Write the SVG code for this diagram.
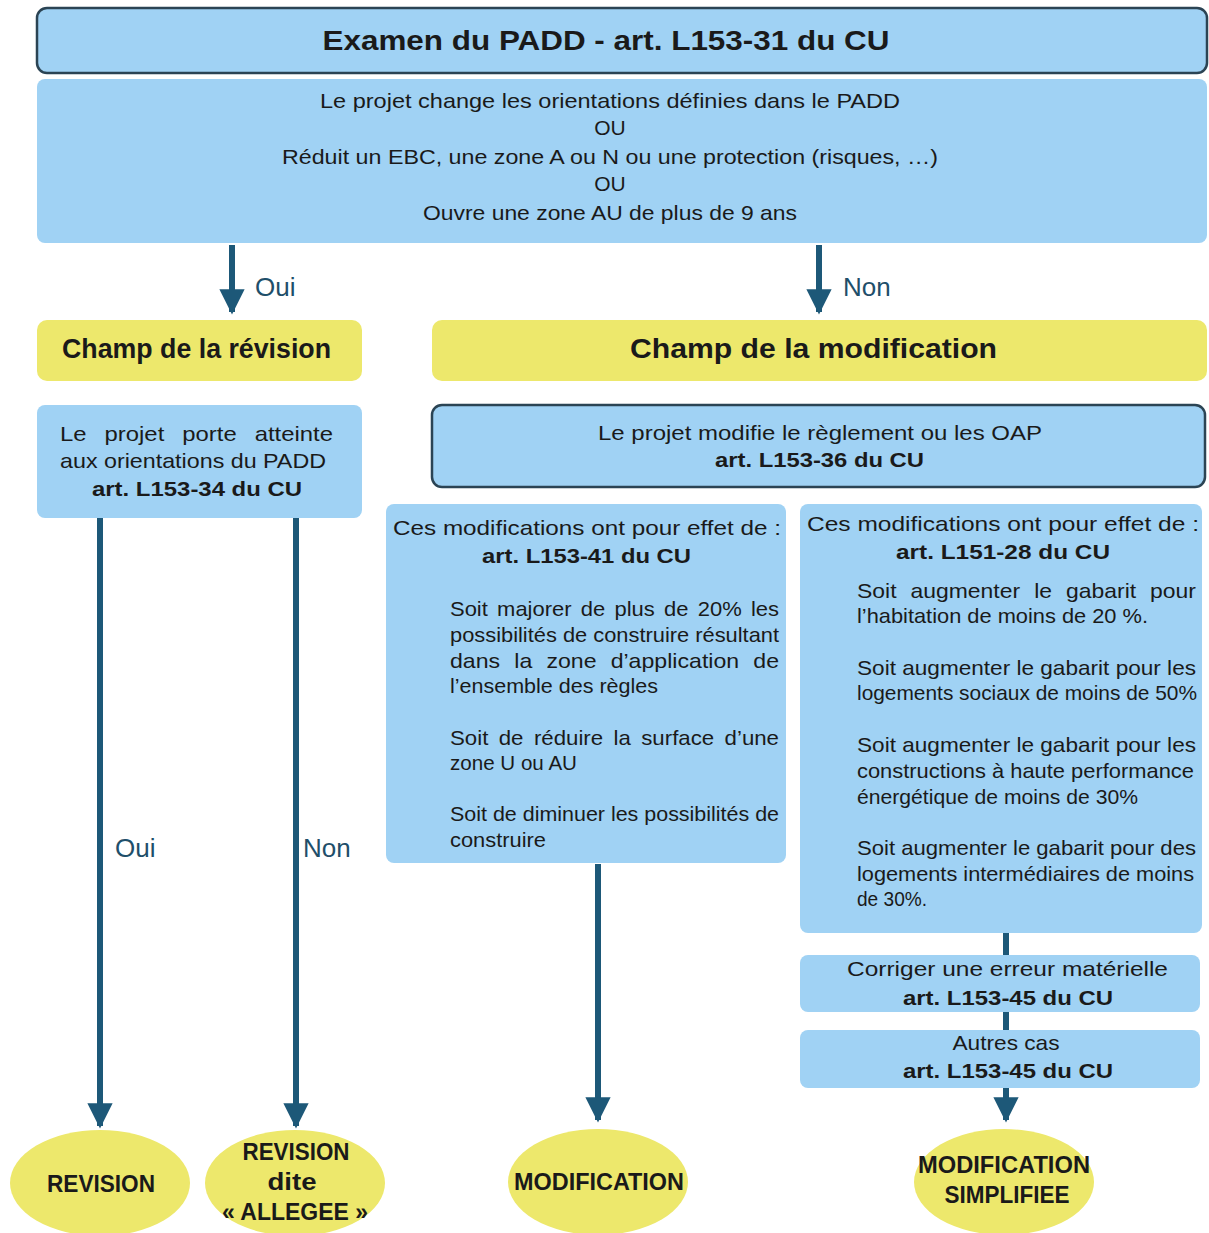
<svg xmlns="http://www.w3.org/2000/svg" width="1209" height="1233" viewBox="0 0 1209 1233">
<style>
.blue{fill:#a0d2f4}
.bord{stroke:#2b4454;stroke-width:2.5}
.yel{fill:#ede86c}
.t{font-family:"Liberation Sans",Arial,sans-serif;font-size:21px;fill:#1a1a1a}
.b{font-weight:bold}
.c{text-anchor:middle}
.big{font-size:28px;font-weight:bold}
.lab{font-family:"Liberation Sans",Arial,sans-serif;font-size:26px;fill:#1f4f6a}
.ell{font-family:"Liberation Sans Narrow","Liberation Sans",Arial,sans-serif;font-size:24px;font-weight:bold;fill:#1a1a1a;text-anchor:middle}
.ln{stroke:#1d5878;stroke-width:6;fill:none}
</style>
<defs>
<marker id="ah" viewBox="0 0 10 10" refX="9" refY="5" markerWidth="4.2" markerHeight="4.2" orient="auto" markerUnits="strokeWidth">
<path d="M0,0 L10,5 L0,10 z" fill="#1d5878"/>
</marker>
</defs>
<rect width="1209" height="1233" fill="#ffffff"/>

<g id="connectors">
<line class="ln" x1="232" y1="245" x2="232" y2="312" marker-end="url(#ah)"/>
<line class="ln" x1="819" y1="245" x2="819" y2="312" marker-end="url(#ah)"/>
<line class="ln" x1="100" y1="518" x2="100" y2="1126" marker-end="url(#ah)"/>
<line class="ln" x1="296" y1="518" x2="296" y2="1126" marker-end="url(#ah)"/>
<line class="ln" x1="598" y1="864" x2="598" y2="1120" marker-end="url(#ah)"/>
<line class="ln" x1="1006" y1="932" x2="1006" y2="956"/>
<line class="ln" x1="1006" y1="1012" x2="1006" y2="1031"/>
<line class="ln" x1="1006" y1="1088" x2="1006" y2="1120" marker-end="url(#ah)"/>
<text class="lab" x="255" y="296">Oui</text>
<text class="lab" x="843" y="296">Non</text>
<text class="lab" x="115" y="857">Oui</text>
<text class="lab" x="303" y="857">Non</text>
</g>

<g id="header">
<rect class="blue bord" x="37" y="8" width="1170" height="65" rx="10"/>
<text class="t big c" x="606" y="50" textLength="567" lengthAdjust="spacingAndGlyphs">Examen du PADD - art. L153-31 du CU</text>
</g>

<g id="padd-conditions">
<rect class="blue" x="37" y="79" width="1170" height="164" rx="8"/>
<text class="t c" x="610" y="108" textLength="580" lengthAdjust="spacingAndGlyphs">Le projet change les orientations définies dans le PADD</text>
<text class="t c" x="610" y="135">OU</text>
<text class="t c" x="610" y="164" textLength="656" lengthAdjust="spacingAndGlyphs">Réduit un EBC, une zone A ou N ou une protection (risques, …)</text>
<text class="t c" x="610" y="191">OU</text>
<text class="t c" x="610" y="220" textLength="374" lengthAdjust="spacingAndGlyphs">Ouvre une zone AU de plus de 9 ans</text>
</g>

<g id="champ-revision">
<rect class="yel" x="37" y="320" width="325" height="61" rx="10"/>
<text class="t big" x="62" y="358" textLength="269" lengthAdjust="spacingAndGlyphs">Champ de la révision</text>
</g>

<g id="champ-modification">
<rect class="yel" x="432" y="320" width="775" height="61" rx="10"/>
<text class="t big" x="630" y="358" textLength="367" lengthAdjust="spacingAndGlyphs">Champ de la modification</text>
</g>

<g id="atteinte-padd">
<rect class="blue" x="37" y="405" width="325" height="113" rx="8"/>
<text class="t" x="60" y="441" word-spacing="10" textLength="273" lengthAdjust="spacingAndGlyphs">Le projet porte atteinte</text>
<text class="t" x="60" y="468" textLength="266" lengthAdjust="spacingAndGlyphs">aux orientations du PADD</text>
<text class="t b" x="92" y="496" textLength="210" lengthAdjust="spacingAndGlyphs">art. L153-34 du CU</text>
</g>

<g id="modifie-reglement">
<rect class="blue bord" x="432" y="405" width="773" height="82" rx="10"/>
<text class="t" x="598" y="440" textLength="444" lengthAdjust="spacingAndGlyphs">Le projet modifie le règlement ou les OAP</text>
<text class="t b" x="715" y="467" textLength="209" lengthAdjust="spacingAndGlyphs">art. L153-36 du CU</text>
</g>

<g id="effets-l153-41">
<rect class="blue" x="386" y="504" width="400" height="359" rx="8"/>
<text class="t" x="393" y="535" textLength="388" lengthAdjust="spacingAndGlyphs">Ces modifications ont pour effet de :</text>
<text class="t b" x="482" y="563" textLength="209" lengthAdjust="spacingAndGlyphs">art. L153-41 du CU</text>
<text class="t" x="450" y="616" word-spacing="3" textLength="329" lengthAdjust="spacingAndGlyphs">Soit majorer de plus de 20% les</text>
<text class="t" x="450" y="642" textLength="329" lengthAdjust="spacingAndGlyphs">possibilités de construire résultant</text>
<text class="t" x="450" y="668" word-spacing="7" textLength="329" lengthAdjust="spacingAndGlyphs">dans la zone d’application de</text>
<text class="t" x="450" y="693" textLength="208" lengthAdjust="spacingAndGlyphs">l’ensemble des règles</text>
<text class="t" x="450" y="745" word-spacing="4" textLength="329" lengthAdjust="spacingAndGlyphs">Soit de réduire la surface d’une</text>
<text class="t" x="450" y="770" textLength="127" lengthAdjust="spacingAndGlyphs">zone U ou AU</text>
<text class="t" x="450" y="821" textLength="329" lengthAdjust="spacingAndGlyphs">Soit de diminuer les possibilités de</text>
<text class="t" x="450" y="847" textLength="96" lengthAdjust="spacingAndGlyphs">construire</text>
</g>

<g id="effets-l151-28">
<rect class="blue" x="800" y="504" width="402" height="429" rx="8"/>
<text class="t" x="807" y="531" textLength="392" lengthAdjust="spacingAndGlyphs">Ces modifications ont pour effet de :</text>
<text class="t b" x="896" y="559" textLength="214" lengthAdjust="spacingAndGlyphs">art. L151-28 du CU</text>
<text class="t" x="857" y="598" word-spacing="7" textLength="339" lengthAdjust="spacingAndGlyphs">Soit augmenter le gabarit pour</text>
<text class="t" x="857" y="623" textLength="291" lengthAdjust="spacingAndGlyphs">l’habitation de moins de 20 %.</text>
<text class="t" x="857" y="675" textLength="339" lengthAdjust="spacingAndGlyphs">Soit augmenter le gabarit pour les</text>
<text class="t" x="857" y="700" textLength="340" lengthAdjust="spacingAndGlyphs">logements sociaux de moins de 50%</text>
<text class="t" x="857" y="752" textLength="339" lengthAdjust="spacingAndGlyphs">Soit augmenter le gabarit pour les</text>
<text class="t" x="857" y="778" textLength="337" lengthAdjust="spacingAndGlyphs">constructions à haute performance</text>
<text class="t" x="857" y="804" textLength="281" lengthAdjust="spacingAndGlyphs">énergétique de moins de 30%</text>
<text class="t" x="857" y="855" textLength="339" lengthAdjust="spacingAndGlyphs">Soit augmenter le gabarit pour des</text>
<text class="t" x="857" y="881" textLength="337" lengthAdjust="spacingAndGlyphs">logements intermédiaires de moins</text>
<text class="t" x="857" y="906" textLength="70" lengthAdjust="spacingAndGlyphs">de 30%.</text>
</g>

<g id="erreur-materielle">
<rect class="blue" x="800" y="955" width="400" height="57" rx="8"/>
<text class="t" x="847" y="976" textLength="321" lengthAdjust="spacingAndGlyphs">Corriger une erreur matérielle</text>
<text class="t b" x="903" y="1005" textLength="210" lengthAdjust="spacingAndGlyphs">art. L153-45 du CU</text>
</g>

<g id="autres-cas">
<rect class="blue" x="800" y="1030" width="400" height="58" rx="8"/>
<text class="t c" x="1006" y="1050" textLength="107" lengthAdjust="spacingAndGlyphs">Autres cas</text>
<text class="t b" x="903" y="1078" textLength="210" lengthAdjust="spacingAndGlyphs">art. L153-45 du CU</text>
</g>

<g id="revision">
<ellipse class="yel" cx="100" cy="1183" rx="90" ry="53"/>
<text class="ell" x="101" y="1192" textLength="108" lengthAdjust="spacingAndGlyphs">REVISION</text>
</g>

<g id="revision-allegee">
<ellipse class="yel" cx="295" cy="1183" rx="90" ry="53"/>
<text class="ell" x="296" y="1160" textLength="107" lengthAdjust="spacingAndGlyphs">REVISION</text>
<text class="ell" x="292" y="1190" textLength="49" lengthAdjust="spacingAndGlyphs">dite</text>
<text class="ell" x="295" y="1220" textLength="146" lengthAdjust="spacingAndGlyphs">« ALLEGEE »</text>
</g>

<g id="modification">
<ellipse class="yel" cx="598" cy="1182" rx="90" ry="53"/>
<text class="ell" x="599" y="1190" textLength="170" lengthAdjust="spacingAndGlyphs">MODIFICATION</text>
</g>

<g id="modification-simplifiee">
<ellipse class="yel" cx="1004" cy="1182" rx="90" ry="53"/>
<text class="ell" x="1004" y="1173" textLength="172" lengthAdjust="spacingAndGlyphs">MODIFICATION</text>
<text class="ell" x="1007" y="1203" textLength="125" lengthAdjust="spacingAndGlyphs">SIMPLIFIEE</text>
</g>
</svg>
